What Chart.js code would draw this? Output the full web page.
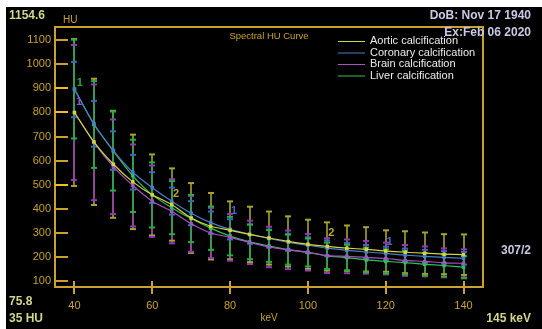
<!DOCTYPE html>
<html>
<head>
<meta charset="utf-8">
<script src="https://cdn.jsdelivr.net/npm/chart.js@4.4.0/dist/chart.umd.min.js"></script>
<style>
html, body { margin: 0; padding: 0; background: #fff; }
#wrap { position: relative; width: 542px; height: 329px; overflow: hidden; }
#panel { position: absolute; left: 6px; top: 7px; width: 536px; height: 322px; background: #000; }
#chart { position: absolute; left: 0; top: 0; }
.lbl { position: absolute; font-family: "Liberation Sans", Arial, sans-serif; font-weight: bold;
  font-size: 12px; line-height: 14px; white-space: nowrap; }
.yel { color: #d2d58a; }
.lav { color: #c9c9e6; }
</style>
</head>
<body>
<div id="wrap">
  <div id="panel"></div>
  <canvas id="chart" width="542" height="329"></canvas>
  <div class="lbl yel" style="left:9px;top:8px">1154.6</div>
  <div class="lbl" style="left:63px;top:13px;font-weight:normal;font-size:10px;color:#c9a12c">HU</div>
  <div class="lbl lav" style="right:11px;top:8px">DoB: Nov 17 1940</div>
  <div class="lbl lav" style="right:11px;top:25px">Ex:Feb 06 2020</div>
  <div class="lbl lav" style="right:11px;top:243px">307/2</div>
  <div class="lbl yel" style="left:9px;top:294px">75.8</div>
  <div class="lbl yel" style="left:9px;top:311px">35 HU</div>
  <div class="lbl yel" style="right:11px;top:311px">145 keV</div>
</div>
<script>
// energies (keV)
const kev = [40, 45, 50, 55, 60, 65, 70, 75, 80, 85, 90, 95, 100, 105, 110, 115, 120, 125, 130, 135, 140];

// mean HU per series
const aortic   = [800, 678, 585, 512, 458, 418, 362, 328, 311, 294, 279, 265, 253, 244, 237, 232, 225, 220, 216, 212, 210];
const coronary = [895, 753, 642, 552, 488, 432, 382, 343, 315, 295, 277, 261, 249, 237, 228, 221, 215, 208, 203, 199, 195];
const brain    = [800, 676, 575, 497, 432, 390, 338, 300, 282, 261, 242, 230, 220, 206, 203, 199, 194, 186, 182, 176, 174];
const liver    = [897, 750, 640, 537, 458, 405, 360, 320, 287, 263, 246, 231, 219, 205, 198, 188, 182, 177, 170, 165, 158];

// error bar half widths (HU)
const aorticErr   = [305, 262, 222, 196, 168, 150, 145, 138, 120, 115, 110, 104, 102, 100, 94, 92, 86, 87, 86, 83, 84];
const coronaryErr = [115, 95, 80, 72, 64, 56, 50, 46, 42, 40, 37, 35, 33, 32, 30, 29, 28, 27, 27, 26, 26];
const brainErr    = [280, 240, 196, 170, 148, 133, 116, 104, 97, 90, 84, 80, 76, 72, 70, 68, 66, 64, 62, 60, 58];
const liverErr    = [205, 180, 164, 150, 135, 110, 98, 90, 80, 72, 66, 62, 58, 55, 53, 51, 50, 49, 47, 46, 46];

const seriesNames = ["Aortic calcification", "Coronary calcification", "Brain calcification", "Liver calcification"];

// axis ticks
const xTicks = [40, 60, 80, 100, 120, 140];
const yTicks = [100, 200, 300, 400, 500, 600, 700, 800, 900, 1000, 1100];

// small number markers on the curves
const markers = [
  { kev: 41.4, hu: 922, text: "1", color: "#22a845" },
  { kev: 41.2, hu: 842, text: "1", color: "#8a55c8" },
  { kev: 66.1, hu: 460, text: "2", color: "#b4aa38" },
  { kev: 81.0, hu: 390, text: "1", color: "#4a66c8" },
  { kev: 106.0, hu: 302, text: "2", color: "#b4aa38" },
  { kev: 121.0, hu: 262, text: "1", color: "#4a66c8" }
];

const gold = "#c9a12c";
const lineColors = ["#d4d440", "#4c7ccc", "#a452c4", "#2cc455"];
const barColors  = ["#a6a42c", "#3f66b8", "#9238b2", "#22b042"];

const means = [aortic, coronary, brain, liver];
const errs = [aorticErr, coronaryErr, brainErr, liverErr];

function pts(arr) { return arr.map((v, i) => ({ x: kev[i], y: v })); }

// error bars drawn behind the curves
const errorBars = {
  id: "errorBars",
  beforeDatasetsDraw(chart) {
    const { ctx, scales: { x, y } } = chart;
    ctx.save();
    ctx.lineWidth = 1.6;
    // stems
    means.forEach((m, s) => {
      ctx.strokeStyle = barColors[s];
      m.forEach((v, i) => {
        const px = Math.round(x.getPixelForValue(kev[i]));
        ctx.beginPath();
        ctx.moveTo(px, y.getPixelForValue(v + errs[s][i]));
        ctx.lineTo(px, y.getPixelForValue(v - errs[s][i]));
        ctx.stroke();
      });
    });
    // caps
    ctx.lineWidth = 2;
    means.forEach((m, s) => {
      ctx.strokeStyle = barColors[s];
      m.forEach((v, i) => {
        const px = Math.round(x.getPixelForValue(kev[i]));
        [v + errs[s][i], v - errs[s][i]].forEach(e => {
          const py = y.getPixelForValue(e);
          ctx.beginPath();
          ctx.moveTo(px - 3, py);
          ctx.lineTo(px + 3, py);
          ctx.stroke();
        });
      });
    });
    ctx.restore();
  }
};

// frame, inner ticks, title, legend, markers
const decor = {
  id: "decor",
  afterDraw(chart) {
    const { ctx, chartArea: a, scales: { x, y } } = chart;
    ctx.save();
    ctx.strokeStyle = gold;
    ctx.lineWidth = 2;
    ctx.beginPath();
    ctx.moveTo(a.left, a.top); ctx.lineTo(a.right, a.top); ctx.lineTo(a.right, a.bottom);
    ctx.lineTo(a.left, a.bottom); ctx.closePath();
    ctx.stroke();

    yTicks.forEach(v => {
      const py = Math.round(y.getPixelForValue(v));
      ctx.strokeStyle = (v === 500 || v === 800 || v === 900) ? "#f0c020" : gold;
      ctx.beginPath(); ctx.moveTo(a.left, py); ctx.lineTo(a.left + 13, py); ctx.stroke();
    });
    ctx.strokeStyle = gold;
    xTicks.forEach(v => {
      const px = Math.round(x.getPixelForValue(v));
      ctx.beginPath(); ctx.moveTo(px, a.bottom - 6); ctx.lineTo(px, a.bottom + 7); ctx.stroke();
    });

    // title
    ctx.fillStyle = gold;
    ctx.font = "9.5px 'Liberation Sans', sans-serif";
    ctx.textAlign = "center";
    ctx.textBaseline = "middle";
    ctx.fillText("Spectral HU Curve", (a.left + a.right) / 2, a.top + 9);

    // legend
    ctx.font = "11px 'Liberation Sans', sans-serif";
    ctx.textAlign = "left";
    chart.data.datasets.forEach((ds, i) => {
      const ly = a.top + 14 + i * 11.5;
      ctx.strokeStyle = ds.borderColor;
      ctx.lineWidth = 1;
      ctx.beginPath(); ctx.moveTo(a.right - 145, ly + 0.5); ctx.lineTo(a.right - 118, ly + 0.5); ctx.stroke();
      ctx.fillStyle = "#ececec";
      ctx.fillText(ds.label, a.right - 113, ly);
    });

    // markers
    ctx.font = "bold 11px 'Liberation Sans', sans-serif";
    ctx.textAlign = "center";
    markers.forEach(m => {
      ctx.fillStyle = m.color;
      ctx.fillText(m.text, x.getPixelForValue(m.kev), y.getPixelForValue(m.hu));
    });
    ctx.restore();
  }
};

new Chart(document.getElementById("chart"), {
  type: "line",
  data: {
    datasets: means.map((m, s) => ({
      label: seriesNames[s],
      data: pts(m),
      borderColor: lineColors[s],
      backgroundColor: lineColors[s],
      borderWidth: 1.2,
      pointStyle: "rect",
      pointRadius: 1.6,
      tension: 0.2
    }))
  },
  options: {
    responsive: false,
    animation: false,
    layout: { padding: { left: 0, top: 27, right: 59, bottom: 0 } },
    plugins: { legend: { display: false }, tooltip: { enabled: false } },
    scales: {
      x: {
        type: "linear",
        min: 35, max: 145,
        afterFit(scale) { scale.height = 42; },
        afterBuildTicks(scale) { scale.ticks = xTicks.map(v => ({ value: v })); },
        grid: { display: false, drawTicks: false },
        border: { display: false },
        ticks: { color: gold, padding: 12, font: { family: "Liberation Sans", size: 11 },
          callback: v => String(v) },
        title: { display: true, text: "keV", color: gold, padding: { top: 0, bottom: 5 },
          font: { family: "Liberation Sans", size: 10 } }
      },
      y: {
        type: "linear",
        min: 75.8, max: 1154.6,
        afterFit(scale) { scale.width = 55; },
        afterBuildTicks(scale) { scale.ticks = yTicks.map(v => ({ value: v })); },
        grid: { display: false, drawTicks: false },
        border: { display: false },
        ticks: { color: gold, padding: 4, font: { family: "Liberation Sans", size: 11 },
          callback: v => String(v) }
      }
    }
  },
  plugins: [errorBars, decor]
});
</script>
</body>
</html>
